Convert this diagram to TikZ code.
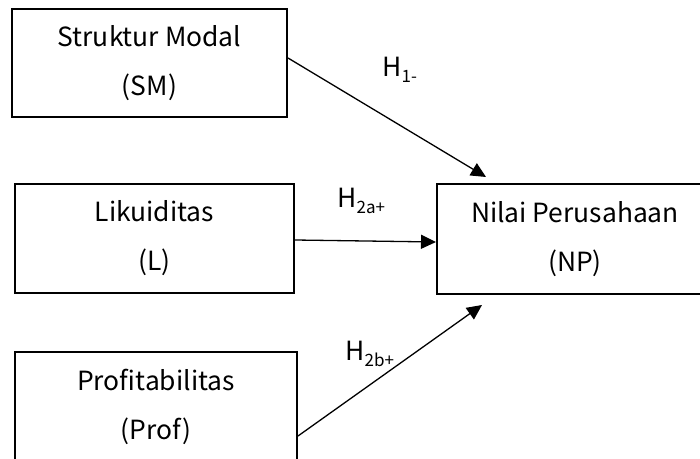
\documentclass[tikz,border=0pt]{standalone}
\usepackage{fontspec}
\setmainfont{Noto Sans CJK JP}
\usepackage{tikz}
\usetikzlibrary{arrows.meta, positioning, calc}

\newcommand{\hsub}[1]{\raisebox{-3pt}{\fontsize{8.5}{9}\selectfont #1}}

\tikzset{
  varbox/.style={draw=black, line width=1pt, align=center, inner sep=0pt,
    font=\fontsize{13.2}{24.5}\selectfont},
  hyparrow/.style={-{Triangle[length=7.5pt, width=7pt]}, line width=0.65pt},
  hyplabel/.style={anchor=base west, inner sep=0pt, font=\fontsize{13.2}{14}\selectfont}
}

\begin{document}
\begin{tikzpicture}[x=0.5pt, y=-0.5pt]
  \useasboundingbox (0,0) rectangle (700,459);
  \clip (0,0) rectangle (700,459);

  % Independent variables
  \node[varbox, minimum width=275*0.5pt, minimum height=108*0.5pt] (sm) at (149.5, 63) {Struktur Modal\\(SM)};
  \node[varbox, minimum width=279*0.5pt, minimum height=109*0.5pt] (liq) at (154.5, 238.5) {Likuiditas\\(L)};
  \node[varbox, minimum width=282*0.5pt, minimum height=110*0.5pt] (prof) at (156, 407) {Profitabilitas\\(Prof)};

  % Dependent variable
  \node[varbox, minimum width=276*0.5pt, minimum height=110*0.5pt] (np) at (575, 239) {Nilai Perusahaan\\(NP)};

  % Hypotheses
  \draw[hyparrow] ($(sm.east)+(0,-5)$) -- ($(np.north west)+(50,-6)$);
  \draw[hyparrow] ($(liq.east)+(0,1.5)$) -- ($(np.west)+(0,3)$);
  \draw[hyparrow] ($(prof.east)+(0,29)$) -- ($(np.south west)+(46,10)$);

  \node[hyplabel] (h1) at (382, 77) {H\hsub{1-}};
  \node[hyplabel] (h2a) at (337, 208) {H\hsub{2a+}};
  \node[hyplabel] (h2b) at (345, 360) {H\hsub{2b+}};
\end{tikzpicture}
\end{document}
